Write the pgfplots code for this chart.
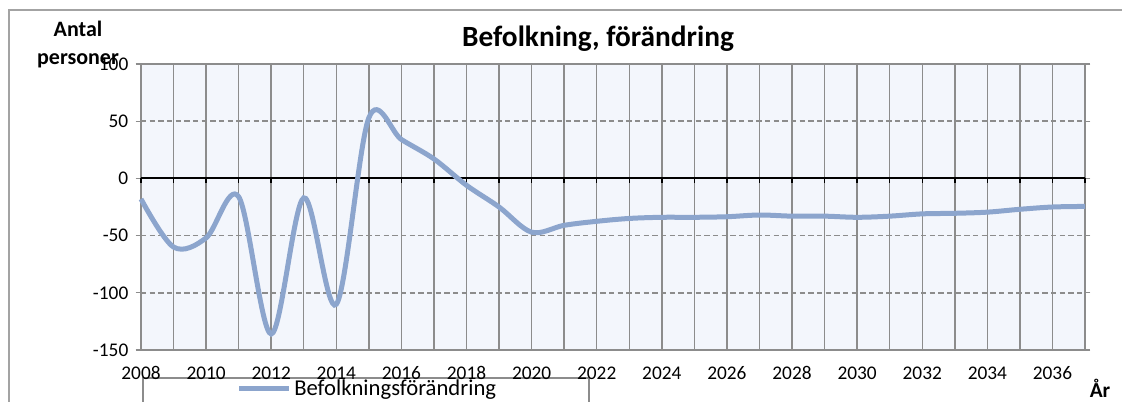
\documentclass[border=0pt]{standalone}
\usepackage{pgfplots}
\pgfplotsset{compat=1.18}
\usepackage{fontspec}
\setmainfont{Carlito}
\definecolor{bgc}{RGB}{243,246,252}
\definecolor{gridc}{RGB}{140,140,140}
\definecolor{linec}{RGB}{140,165,205}
\begin{document}
\begin{tikzpicture}
\path[use as bounding box] (0,0) rectangle (841.5pt,300.75pt);
\draw[gridc!80, line width=1pt] (6.75pt,-20pt) rectangle (870pt,293.25pt);
\draw[gridc, line width=0.8pt] (107.25pt,-20pt) rectangle (441.75pt,17.25pt);
\begin{axis}[
  at={(105.75pt,38.25pt)}, anchor=south west,
  scale only axis, width=708pt, height=214.5pt,
  xmin=2008, xmax=2037, ymin=-150, ymax=100,
  axis background/.style={fill=bgc},
  axis line style={gridc, line width=1pt},
  xtick={2008,2010,...,2036},
  minor xtick={2009,2011,...,2037},
  ytick={-150,-100,...,100},
  xmajorgrids, xminorgrids, ymajorgrids,
  major x grid style={gridc, line width=1.1pt},
  minor x grid style={gridc, line width=1.1pt},
  major y grid style={gridc, dash pattern=on 4pt off 2.5pt, line width=1.2pt},
  x tick style={draw=none},
  y tick style={gridc, line width=1pt},
  tick align=outside,
  major tick length=4pt,
  /pgf/number format/assume math mode=true,
  /pgf/number format/1000 sep={},
  tick label style={font=\fontsize{14.5}{15}\selectfont},
  xticklabel style={yshift=-5pt},
  yticklabel style={xshift=-2pt},
  legend style={draw=none, fill=none, at={(0.101,-0.136)}, anchor=west,
    font=\fontsize{17}{18}\selectfont, inner sep=0pt},
  legend image code/.code={\draw[#1, line width=3.75pt] (0pt,0pt) -- (37.5pt,0pt);},
  clip=false,
]
\draw[black, line width=1.4pt] (axis cs:2008,0) -- (axis cs:2037,0);
\pgfplotsinvokeforeach{2008,...,2037}{
  \draw[black, line width=1.1pt] (axis cs:#1,0) -- ++(0pt,-3.5pt);
}
\addplot[linec, line width=3.75pt, smooth, tension=0.55] coordinates {
(2008,-18) (2009,-60) (2010,-52) (2011,-16) (2012,-136) (2013,-17)
(2014,-110) (2015,53) (2016,34) (2017,17) (2018,-6) (2019,-25)
(2020,-47) (2021,-41) (2022,-37.5) (2023,-35) (2024,-34) (2025,-34)
(2026,-33.5) (2027,-32) (2028,-33) (2029,-33) (2030,-34) (2031,-33)
(2032,-31) (2033,-30.5) (2034,-29.5) (2035,-27) (2036,-25) (2037,-24.5)
};
\addlegendentry{Befolkningsförändring}
\end{axis}
\node[font=\bfseries\fontsize{22}{24}\selectfont, anchor=base] at (448.5pt,265.5pt) {Befolkning, förändring};
\node[font=\bfseries\fontsize{16.5}{18}\selectfont, anchor=base] at (58.5pt,273pt) {Antal};
\node[font=\bfseries\fontsize{16.5}{18}\selectfont, anchor=base] at (58.5pt,252pt) {personer};
\node[font=\bfseries\fontsize{16}{18}\selectfont] at (825pt,9.75pt) {År};
\end{tikzpicture}
\end{document}
